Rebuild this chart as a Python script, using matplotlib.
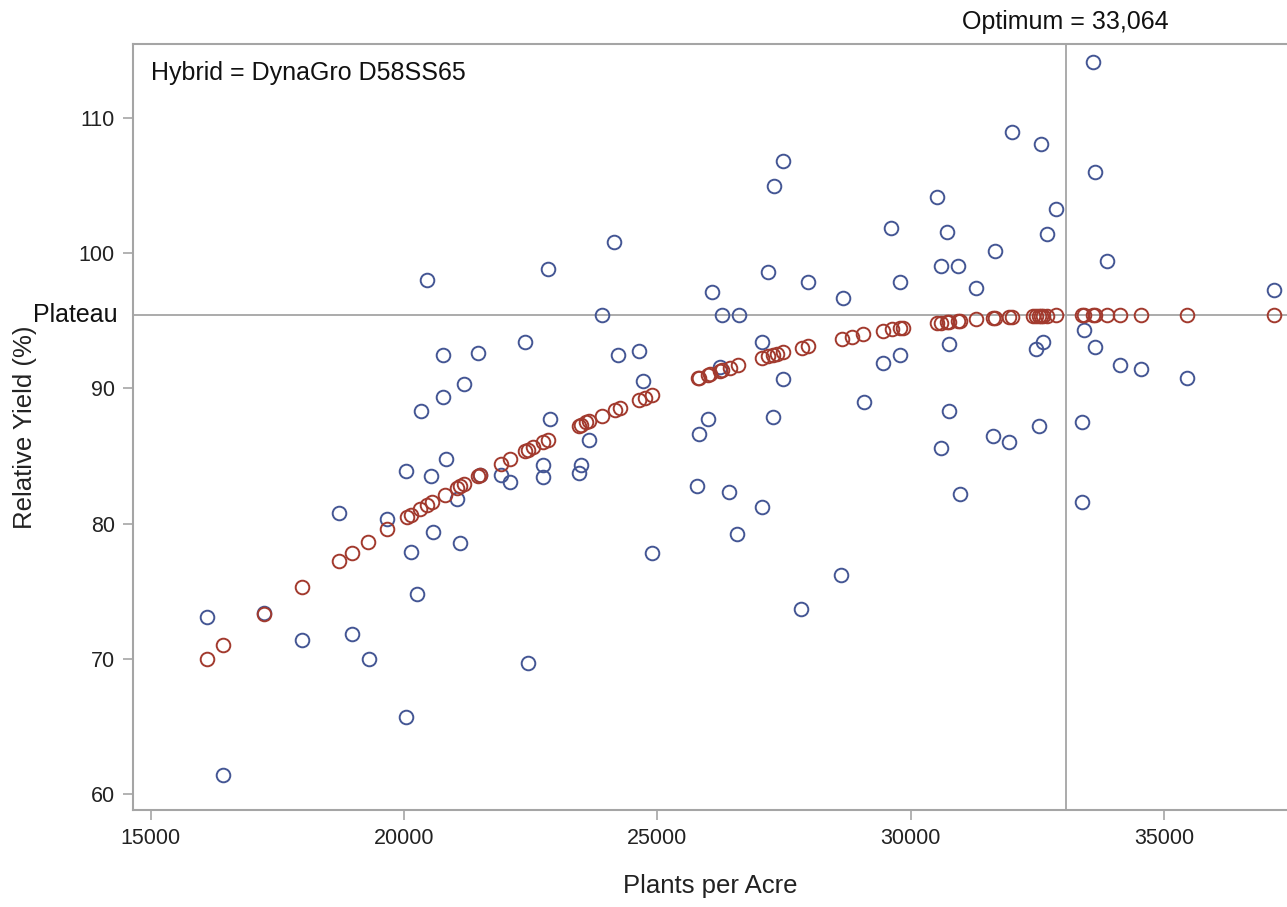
import matplotlib
matplotlib.use("Agg")
import matplotlib.pyplot as plt
import matplotlib.transforms as mtransforms

# Observed relative yield (blue circles)
obs_x = [16105, 16433, 17243, 17981, 18723, 18980, 19309, 19658, 20040, 20040,
         20132, 20251, 20330, 20448, 20533, 20567, 20776, 20776, 20829, 21040,
         21106, 21190, 21467, 21500, 21915, 22093, 22389, 22454, 22750, 22750,
         22837, 22882, 23454, 23494, 23658, 23902, 24151, 24231, 24645, 24724,
         24889, 25790, 25823, 25995, 26074, 26238, 26283, 26410, 26574, 26613,
         27073, 27073, 27191, 27279, 27310, 27476, 27476, 27843, 27968, 28627,
         28673, 29080, 29450, 29614, 29791, 29791, 30515, 30594, 30594, 30725,
         30760, 30760, 30930, 30975, 31291, 31621, 31667, 31949, 31996, 32476,
         32535, 32575, 32620, 32687, 32865, 33390, 33390, 33430, 33607, 33640,
         33640, 33884, 34134, 34549, 35451, 37174]
obs_y = [73.07, 61.38, 73.37, 71.39, 80.80, 71.83, 70.02, 80.36, 83.89, 65.72,
         77.88, 74.79, 88.33, 98.00, 83.54, 79.40, 92.47, 89.39, 84.78, 81.82,
         78.60, 90.33, 92.64, 83.60, 83.60, 83.10, 93.45, 69.70, 84.33, 83.42,
         98.83, 87.70, 83.72, 84.33, 86.20, 95.43, 100.80, 92.47, 92.79, 90.55,
         77.85, 82.78, 86.65, 87.74, 97.10, 91.60, 95.43, 82.34, 79.23, 95.43,
         93.41, 81.25, 98.63, 87.90, 104.97, 106.82, 90.67, 73.68, 97.85, 76.18,
         96.66, 88.97, 91.88, 101.87, 97.85, 92.47, 104.18, 99.08, 85.57, 101.59,
         93.28, 88.33, 99.08, 82.19, 97.45, 86.50, 100.19, 86.01, 108.94, 92.91,
         87.24, 108.05, 93.45, 101.40, 103.27, 87.54, 81.57, 94.32, 114.17, 106.03,
         93.08, 99.45, 91.73, 91.41, 90.79, 97.28]

# Predicted relative yield (red circles)
pred_x = [16105, 16433, 17243, 17981, 18723, 18968, 19296, 19671, 20053, 20132,
          20316, 20448, 20546, 20810, 21040, 21106, 21190, 21467, 21500, 21915,
          22093, 22389, 22454, 22553, 22750, 22850, 23454, 23494, 23593, 23658,
          23902, 24165, 24264, 24645, 24757, 24889, 25797, 25823, 25995, 26040,
          26238, 26283, 26435, 26600, 27062, 27191, 27279, 27357, 27487, 27850,
          27981, 28640, 28838, 29067, 29450, 29628, 29791, 29857, 30515, 30594,
          30725, 30760, 30930, 30975, 31291, 31621, 31667, 31949, 31996, 32423,
          32476, 32535, 32575, 32620, 32687, 32865, 33390, 33430, 33607, 33640,
          33884, 34134, 34549, 35451, 37174]
pred_y = [70.02, 70.99, 73.31, 75.32, 77.25, 77.86, 78.67, 79.57, 80.46, 80.64,
          81.06, 81.35, 81.57, 82.15, 82.64, 82.78, 82.96, 83.53, 83.60, 84.43,
          84.78, 85.34, 85.47, 85.65, 86.01, 86.19, 87.25, 87.32, 87.48, 87.59,
          87.99, 88.41, 88.57, 89.14, 89.31, 89.50, 90.74, 90.78, 90.99, 91.05,
          91.29, 91.34, 91.52, 91.71, 92.22, 92.36, 92.44, 92.55, 92.66, 93.00,
          93.12, 93.67, 93.82, 94.00, 94.25, 94.36, 94.46, 94.50, 94.82, 94.86,
          94.91, 94.93, 94.99, 95.01, 95.12, 95.22, 95.23, 95.29, 95.30, 95.36,
          95.37, 95.38, 95.38, 95.39, 95.39, 95.40, 95.40, 95.40, 95.40, 95.40,
          95.40, 95.40, 95.40, 95.40, 95.40]

plateau = 95.4
optimum = 33064
x_ticks = [15000, 20000, 25000, 30000, 35000]
y_ticks = [60, 70, 80, 90, 100, 110]
hybrid_label = "Hybrid = DynaGro D58SS65"

plt.rcParams['font.family'] = ['Liberation Sans', 'DejaVu Sans']

W, H = 1287, 907
fig = plt.figure(figsize=(W / 100, H / 100), dpi=100)
left, right, bottom, top = 133, 1287, 810, 44
ax = fig.add_axes([left / W, (H - bottom) / H, (right - left) / W, (bottom - top) / H])

grey = '#a5a5a5'
blue = '#445694'
red = '#A23A2E'

ax.axhline(plateau, color=grey, lw=1.3, zorder=1)
ax.axvline(optimum, color=grey, lw=1.3, zorder=1)

ax.plot(obs_x, obs_y, linestyle='none', marker='o', markersize=9.8,
        markerfacecolor='none', markeredgecolor=blue, markeredgewidth=1.4, zorder=3)
ax.plot(pred_x, pred_y, linestyle='none', marker='o', markersize=9.8,
        markerfacecolor='none', markeredgecolor=red, markeredgewidth=1.4, zorder=4)

ax.set_xlim(14651, 37431)
ax.set_ylim(58.82, 115.47)
ax.set_xticks(x_ticks)
ax.set_yticks(y_ticks)
ax.set_xticklabels([str(v) for v in x_ticks])
ax.set_yticklabels([str(v) for v in y_ticks])

for s in ['left', 'top', 'bottom']:
    ax.spines[s].set_color(grey)
    ax.spines[s].set_linewidth(1.5)
ax.spines['right'].set_visible(False)
ax.tick_params(axis='both', direction='out', length=7, width=1.2, color=grey,
               labelsize=15.5, labelcolor='#222222', pad=6)

ax.set_xlabel("Plants per Acre", fontsize=18.5, color='#222222', labelpad=18)
ax.set_ylabel("Relative Yield (%)", fontsize=18.5, color='#222222', labelpad=30)

ax.text(0.0153, 0.978, hybrid_label, transform=ax.transAxes, ha='left', va='top',
        fontsize=18, color='#111111')

trans = mtransforms.blended_transform_factory(ax.transData, ax.transAxes)
ax.text(optimum, 1.029, "Optimum = 33,064", transform=trans, ha='center', va='center',
        fontsize=18, color='#111111', clip_on=False)

trans2 = mtransforms.blended_transform_factory(ax.transAxes, ax.transData)
ax.text(-0.013, plateau, "Plateau", transform=trans2, ha='right', va='center',
        fontsize=18, color='#111111', clip_on=False)

fig.savefig("out.png", dpi=100)
